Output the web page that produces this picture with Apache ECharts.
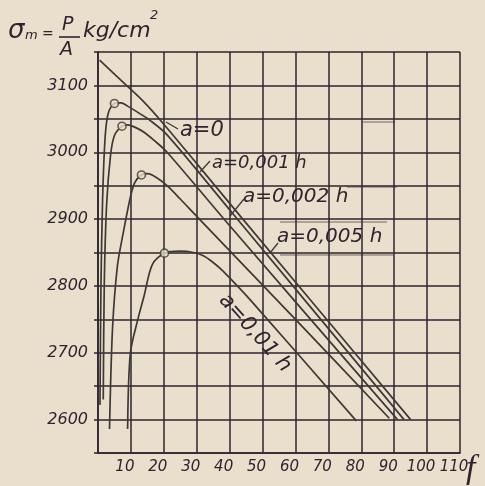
<!DOCTYPE html>
<html><head><meta charset="utf-8">
<script src="https://cdn.jsdelivr.net/npm/echarts@6/dist/echarts.min.js"></script>
<style>html,body{margin:0;padding:0;background:#e9dfcc;}#c{width:485px;height:486px;}</style>
</head><body><div id="c"></div>
<script>
// ---- data ----
const xTickLabels = ['10','20','30','40','50','60','70','80','90','100','110'];
const yTickLabels = ['2600','2700','2800','2900','3000','3100'];
const curveLabels = ['a=0','a=0,001 h','a=0,002 h','a=0,005 h','a=0,01 h'];
const curveA0   = [[0.5,3138],[8,3103],[14,3075],[20,3042],[30,2983],[44,2900],[95,2600]];
const curveA001 = [[0.6,2622],[0.9,2800],[1.4,2930],[2.2,3025],[3.2,3060],[5,3073],[7,3074],[9,3069],[12,3060],[16,3047],[21,3026],[41,2908],[93,2600]];
const curveA002 = [[1.6,2630],[1.9,2800],[2.6,2920],[3.8,2995],[5,3025],[7.3,3039],[9,3041],[11,3038],[14,3030],[17,3018],[21,3000],[39.5,2893],[91,2600]];
const curveA005 = [[3.5,2586],[4.4,2735],[5.9,2830],[7.7,2880],[9.8,2932],[11.2,2955],[13.2,2966],[15,2968],[17.5,2963],[21,2950],[25,2930],[30,2904],[60,2750],[88.5,2602]];
const curveA01  = [[9,2586],[9.8,2698],[12,2748],[14,2785],[16.5,2832],[20.2,2849],[25,2852],[29,2850],[32,2845],[35,2835],[38,2822],[47,2775],[78.5,2598]];
const peakPoints = [[5,3073],[7.3,3039],[13.2,2966],[20.2,2849]];

const INK = '#2e2430';
const CURVE = '#3e3936';
const FONT = '"DejaVu Sans", sans-serif';

function curve(name, data) {
  return {
    name: name, type: 'line', data: data, showSymbol: false, smooth: 0.3,
    lineStyle: {color: CURVE, width: 1.7}, z: 3, silent: true
  };
}

const chart = echarts.init(document.getElementById('c'), null, {renderer: 'canvas'});
const gtext = (x, y, text, size, align, rot) => ({
  type: 'text', x: x, y: y, rotation: rot || 0, silent: true,
  style: {text: text, x: 0, y: 0, fill: INK, font: 'italic ' + size + 'px ' + FONT,
          textAlign: align || 'left', textVerticalAlign: 'middle'}
});
const gline = (x1, y1, x2, y2, color, w) => ({
  type: 'line', silent: true, shape: {x1: x1, y1: y1, x2: x2, y2: y2},
  style: {stroke: color, lineWidth: w}
});

chart.setOption({
  backgroundColor: '#e9dfcc',
  animation: false,
  grid: {left: 98, right: 25, top: 52, bottom: 33, outerBoundsMode: 'none'},
  xAxis: {
    type: 'value', min: 0, max: 110, interval: 10,
    axisLine: {show: true, lineStyle: {color: INK, width: 1.6}},
    axisTick: {show: false},
    splitLine: {show: true, lineStyle: {color: INK, width: 1.5}},
    axisLabel: {
      color: INK, fontStyle: 'italic', fontFamily: FONT, fontSize: 15, margin: 7,
      padding: [0, 12, 0, 0],
      formatter: v => xTickLabels.indexOf(String(v)) >= 0 ? String(v) : ''
    }
  },
  yAxis: {
    type: 'value', min: 2550, max: 3150, interval: 50,
    axisLine: {show: true, lineStyle: {color: INK, width: 1.6}},
    axisTick: {show: true, length: 4, lineStyle: {color: INK, width: 1.5}},
    splitLine: {show: true, lineStyle: {color: INK, width: 1.5}},
    axisLabel: {
      color: INK, fontStyle: 'italic', fontFamily: FONT, fontSize: 16, margin: 10,
      formatter: v => yTickLabels.indexOf(String(v)) >= 0 ? String(v) : ''
    }
  },
  series: [
    curve(curveLabels[0], curveA0),
    curve(curveLabels[1], curveA001),
    curve(curveLabels[2], curveA002),
    curve(curveLabels[3], curveA005),
    curve(curveLabels[4], curveA01),
    {
      name: 'peaks', type: 'scatter', data: peakPoints, symbol: 'circle', symbolSize: 8,
      itemStyle: {color: '#e9dfcc', borderColor: CURVE, borderWidth: 1.6}, z: 4, silent: true
    }
  ],
  graphic: [
    // axis title: sigma_m = P/A kg/cm^2
    gtext(8, 31, 'σ', 26),
    gtext(25, 36, 'm', 13),
    gtext(42, 34, '=', 14),
    gtext(62, 25, 'P', 19),
    gline(59, 37, 80, 37, INK, 1.6),
    gtext(60, 50, 'A', 19),
    gtext(83, 31, 'kg/cm', 22),
    gtext(150, 16, '2', 13),
    // x axis symbol
    {type: 'text', x: 466, y: 469, silent: true,
     style: {text: 'f', x: 0, y: 0, fill: INK, font: 'italic 34px "Liberation Serif", serif',
             textAlign: 'left', textVerticalAlign: 'middle'}},
    // faint ruled strokes
    gline(363, 122, 395, 122, '#aaa293', 2),
    gline(347, 187, 397, 187, '#aaa293', 2),
    gline(280, 222, 387, 222, '#aaa293', 2),
    gline(280, 255, 393, 255, '#aaa293', 2),
    // curve labels and leaders
    gtext(180, 131, curveLabels[0], 21),
    gline(178, 129, 166, 122, CURVE, 1.3),
    gtext(212, 163, curveLabels[1], 18),
    gline(210, 161, 200, 172, CURVE, 1.3),
    gtext(243, 197, curveLabels[2], 20),
    gline(244, 199, 230, 216, CURVE, 1.3),
    gtext(277, 237, curveLabels[3], 20),
    gline(278, 243, 270, 253, CURVE, 1.3),
    gtext(255, 333, curveLabels[4], 21, 'center', -0.84)
  ]
});
</script>
</body></html>
